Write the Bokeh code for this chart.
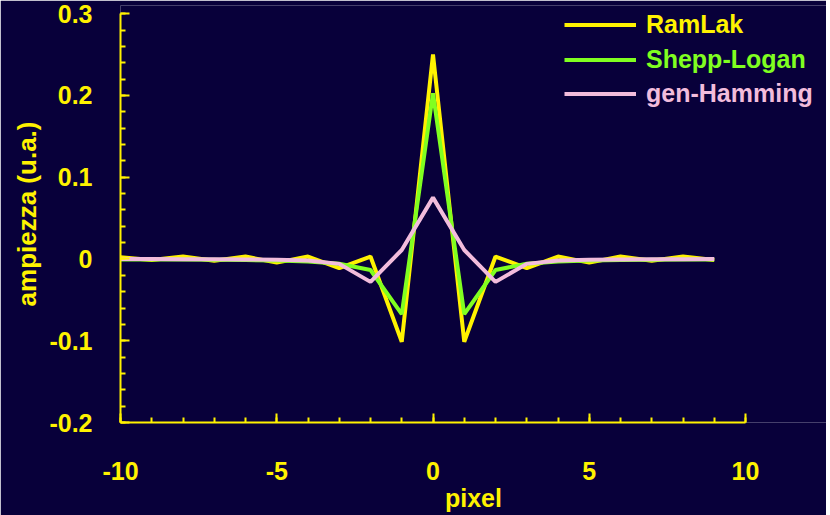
from bokeh.plotting import figure
from bokeh.models import FixedTicker, Legend, LegendItem
from bokeh.embed import file_html
from bokeh.resources import INLINE

pixel = list(range(-10, 10))
ramlak = [0.002, -0.0013, 0.003, -0.0022, 0.003, -0.0045, 0.003, -0.0113, 0.003, -0.1013,
          0.25, -0.1013, 0.003, -0.0113, 0.003, -0.0045, 0.003, -0.0022, 0.003, -0.0013]
shepp_logan = [-0.0005, -0.0006, -0.0008, -0.001, -0.0014, -0.002, -0.0032, -0.0058, -0.0135, -0.0675,
               0.2026, -0.0675, -0.0135, -0.0058, -0.0032, -0.002, -0.0014, -0.001, -0.0008, -0.0006]
gen_hamming = [0.0, 0.0, -0.0003, -0.0004, -0.0006, -0.001, -0.002, -0.006, -0.028, 0.011,
               0.075, 0.011, -0.028, -0.006, -0.002, -0.001, -0.0006, -0.0004, -0.0003, 0.0]

x_ticks = [-10, -5, 0, 5, 10]
x_tick_labels = ["-10", "-5", "0", "5", "10"]
x_minor = list(range(-10, 11))
y_ticks = [-0.2, -0.1, 0, 0.1, 0.2, 0.3]
y_tick_labels = ["-0.2", "-0.1", "0", "0.1", "0.2", "0.3"]
y_minor = [round(-0.2 + 0.02 * i, 2) for i in range(26)]

series_names = ["RamLak", "Shepp-Logan", "gen-Hamming"]
colors = ["#fff200", "#80ff20", "#f2bcdc"]

BG = "#08003a"
AX = "#fff200"
FONT = "Liberation Sans"

W, H = 826, 515
LEFT, TOP, BOTTOM = 120, 5, 93
frame_w = W - LEFT
px_per_unit = 625 / 20.0
x_end = -10 + frame_w / px_per_unit

p = figure(width=W, height=H, output_backend="svg", toolbar_location=None,
           x_range=(-10, x_end), y_range=(-0.2, 0.31),
           background_fill_color=BG, border_fill_color=BG,
           min_border_left=LEFT, min_border_right=0, min_border_top=TOP, min_border_bottom=BOTTOM)
p.outline_line_color = None
p.grid.visible = False

renderers = []
for ys, c in zip([ramlak, shepp_logan, gen_hamming], colors):
    r = p.line(pixel, ys, line_color=c, line_width=4)
    renderers.append(r)

for ax in (p.xaxis[0], p.yaxis[0]):
    ax.axis_line_color = AX
    ax.axis_line_width = 2
    ax.major_tick_line_color = AX
    ax.minor_tick_line_color = AX
    ax.major_tick_line_width = 2
    ax.minor_tick_line_width = 2
    ax.major_tick_in = 9
    ax.major_tick_out = 0
    ax.minor_tick_in = 5
    ax.minor_tick_out = 0
    ax.major_label_text_color = AX
    ax.major_label_text_font = FONT
    ax.major_label_text_font_style = "bold"
    ax.major_label_text_font_size = "25px"
    ax.axis_label_text_color = AX
    ax.axis_label_text_font = FONT
    ax.axis_label_text_font_style = "bold"

p.xaxis.bounds = (-10, 10)
p.yaxis.bounds = (-0.2, 0.3)
p.xaxis.axis_label_text_font_size = "25px"
p.yaxis.axis_label_text_font_size = "26px"
p.xaxis.ticker = FixedTicker(ticks=x_ticks, minor_ticks=x_minor)
p.xaxis.major_label_overrides = {t: l for t, l in zip(x_ticks, x_tick_labels)}
p.yaxis.ticker = FixedTicker(ticks=y_ticks, minor_ticks=y_minor)
p.yaxis.major_label_overrides = {t: l for t, l in zip(y_ticks, y_tick_labels)}
p.xaxis.axis_label = "pixel"
p.yaxis.axis_label = "ampiezza (u.a.)"
p.xaxis.major_label_standoff = 39
p.xaxis.axis_label_standoff = 1
p.yaxis.major_label_standoff = 28
p.yaxis.axis_label_standoff = 4

row_y = [383, 348, 314]
for name, r, c, yy in zip(series_names, renderers, colors, row_y):
    lg = Legend(items=[LegendItem(label=name, renderers=[r])], location=(444, yy),
                glyph_width=72, glyph_height=25, label_height=25, label_standoff=10,
                padding=0, margin=0, spacing=0,
                background_fill_alpha=0, border_line_alpha=0,
                label_text_color=c, label_text_font=FONT, label_text_font_style="bold",
                label_text_font_size="25px")
    p.add_layout(lg, "center")

open("out.html", "w").write(file_html(p, INLINE))
